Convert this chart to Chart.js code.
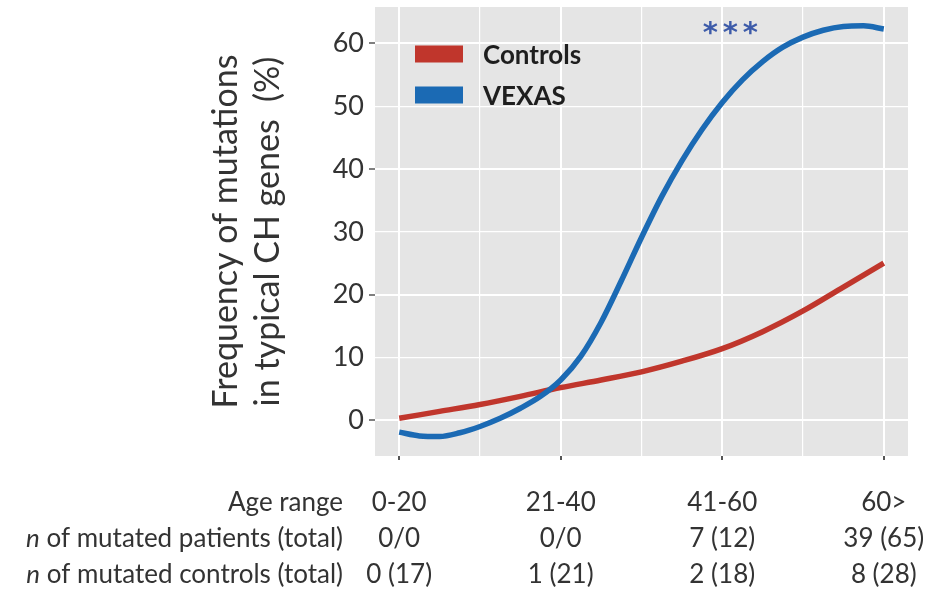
<!DOCTYPE html>
<html>
<head>
<meta charset="utf-8">
<script src="https://cdn.jsdelivr.net/npm/chart.js@4/dist/chart.umd.min.js"></script>
<style>
  html, body { margin: 0; padding: 0; background: #ffffff; }
  #wrap { width: 936px; height: 608px; position: relative; }
</style>
</head>
<body>
<div id="wrap"><canvas id="c" width="936" height="608"></canvas></div>
<script>
// ---------- DATA ----------
const ageRanges = ["0-20", "21-40", "41-60", "60>"];
const mutatedPatients = ["0/0", "0/0", "7 (12)", "39 (65)"];
const mutatedControls = ["0 (17)", "1 (21)", "2 (18)", "8 (28)"];
const rowLabels = ["Age range", "of mutated patients (total)", "of mutated controls (total)"];
const rowItalicPrefix = ["", "n", "n"];

const yTickValues = [0, 10, 20, 30, 40, 50, 60];
const xTickValues = [0, 0.5, 1, 1.5, 2, 2.5, 3];

// curve positions (age-range index along x)
const curveX = [0, 0.125, 0.25, 0.375, 0.5, 0.625, 0.75, 0.875, 1, 1.125, 1.25, 1.375, 1.5,
                1.625, 1.75, 1.875, 2, 2.125, 2.25, 2.375, 2.5, 2.625, 2.75, 2.875, 3];
const vexasY = [-1.9, -2.5, -2.6, -2.0, -1.0, 0.3, 1.9, 3.8, 6.4, 10.2, 15.6, 22.2, 29.1,
                35.6, 41.3, 46.3, 50.6, 54.2, 57.1, 59.4, 61.0, 62.1, 62.7, 62.8, 62.3];
const controlsX = [0, 0.25, 0.5, 0.75, 1, 1.25, 1.5, 1.75, 2, 2.25, 2.5, 2.75, 3];
const controlsY = [0.3, 1.4, 2.5, 3.8, 5.2, 6.4, 7.7, 9.4, 11.4, 14.1, 17.4, 21.2, 25.0];

const seriesNames = ["Controls", "VEXAS"];
const significanceMark = "*";
const significanceCount = 3;
const significanceAt = { x: 2.05, y: 62.8 };

// ---------- STYLE ----------
const FONT = 'Lato, "Open Sans", "DejaVu Sans", sans-serif';
const TEXT = '#333333';
const RED = '#C0362C';
const BLUE = '#1B6AB4';
const PANEL = '#E5E5E5';
const TABLE_SIZE = 26;

const toPts = (xs, ys) => xs.map((x, i) => ({ x: x, y: ys[i] }));

const panelBg = {
  id: 'panelBg',
  beforeDraw(chart) {
    const a = chart.chartArea, ctx = chart.ctx;
    ctx.save();
    ctx.fillStyle = PANEL;
    ctx.fillRect(a.left, a.top, a.right - a.left, a.bottom - a.top);
    ctx.restore();
  }
};

const extras = {
  id: 'extras',
  afterDraw(chart) {
    const ctx = chart.ctx, a = chart.chartArea;
    const xs = chart.scales.x, ys = chart.scales.y;
    ctx.save();
    // legend
    const ds = chart.data.datasets;
    const legX = a.left + 40, legY0 = a.top + 47, legStep = 41;
    ds.forEach((d, i) => {
      const cy = legY0 + i * legStep;
      ctx.fillStyle = d.borderColor;
      ctx.fillRect(legX, cy - 8.5, 48, 17);
      ctx.fillStyle = '#1e1e1e';
      ctx.font = 'bold 26px ' + FONT;
      ctx.textAlign = 'left';
      ctx.textBaseline = 'middle';
      ctx.fillText(d.label, legX + 68, cy + 2);
    });
    // significance marker
    ctx.fillStyle = '#3D5BA9';
    ctx.font = 'bold 29px "DejaVu Sans", sans-serif';
    ctx.textAlign = 'center';
    ctx.textBaseline = 'alphabetic';
    const sx = xs.getPixelForValue(significanceAt.x);
    const sy = ys.getPixelForValue(significanceAt.y) + 16;
    for (let k = 0; k < significanceCount; k++) {
      ctx.fillText(significanceMark, sx + (k - (significanceCount - 1) / 2) * 20, sy);
    }
    // table row labels
    const tOpt = xs.options.ticks;
    const lh = 36;
    const baseY = xs.top + xs.options.grid.tickLength + tOpt.padding + lh / 2;
    const rightX = 343;
    ctx.fillStyle = TEXT;
    ctx.textBaseline = 'middle';
    ctx.textAlign = 'left';
    const f = TABLE_SIZE + 'px ' + FONT, fi = 'italic ' + TABLE_SIZE + 'px ' + FONT;
    rowLabels.forEach((lab, i) => {
      const y = baseY + i * lh;
      ctx.font = f;
      const wMain = ctx.measureText(lab).width;
      let wPre = 0, wSp = 0;
      if (rowItalicPrefix[i]) {
        ctx.font = fi;
        wPre = ctx.measureText(rowItalicPrefix[i]).width;
        ctx.font = f;
        wSp = ctx.measureText(' ').width;
      }
      let x = rightX - wMain - wPre - wSp;
      if (rowItalicPrefix[i]) {
        ctx.font = fi;
        ctx.fillText(rowItalicPrefix[i], x, y);
        x += wPre + wSp;
        ctx.font = f;
      }
      ctx.fillText(lab, x, y);
    });
    ctx.restore();
  }
};

const isInt = v => Math.abs(v - Math.round(v)) < 1e-6;

new Chart(document.getElementById('c'), {
  type: 'line',
  data: {
    datasets: [
      { label: seriesNames[0], data: toPts(controlsX, controlsY), borderColor: RED, backgroundColor: RED,
        borderWidth: 5.5, pointRadius: 0, cubicInterpolationMode: 'monotone', order: 1, borderCapStyle: 'butt' },
      { label: seriesNames[1], data: toPts(curveX, vexasY), borderColor: BLUE, backgroundColor: BLUE,
        borderWidth: 5.5, pointRadius: 0, cubicInterpolationMode: 'monotone', order: 0, borderCapStyle: 'butt' }
    ]
  },
  options: {
    responsive: false,
    animation: false,
    events: [],
    layout: { padding: { left: 195, top: 7, right: 28, bottom: 0 } },
    plugins: { legend: { display: false }, tooltip: { enabled: false } },
    scales: {
      x: {
        type: 'linear',
        min: -0.15, max: 3.15,
        afterBuildTicks: s => { s.ticks = xTickValues.map(v => ({ value: v })); },
        afterFit: s => { s.height = 152; s.paddingLeft = 0; s.paddingRight = 0; },
        border: { display: false },
        grid: {
          color: '#ffffff',
          lineWidth: c => (c.tick && isInt(c.tick.value)) ? 2 : 1.2,
          tickColor: c => (c.tick && isInt(c.tick.value)) ? '#555555' : 'rgba(0,0,0,0)',
          tickLength: 4,
          tickWidth: 2
        },
        ticks: {
          autoSkip: false,
          maxRotation: 0,
          padding: 25,
          color: TEXT,
          font: { family: FONT, size: TABLE_SIZE, lineHeight: '36px' },
          callback: v => {
            if (!isInt(v)) return '';
            const i = Math.round(v);
            return [ageRanges[i], mutatedPatients[i], mutatedControls[i]];
          }
        }
      },
      y: {
        type: 'linear',
        min: -5.7, max: 65.8,
        afterBuildTicks: s => { s.ticks = yTickValues.map(v => ({ value: v })); },
        afterFit: s => { s.width = 180; s.paddingTop = 0; s.paddingBottom = 0; },
        border: { display: false },
        grid: {
          color: '#ffffff',
          lineWidth: c => (c.tick && c.tick.value % 20 === 0) ? 2 : 1.2,
          tickColor: c => (c.tick && c.tick.value % 20 === 0) ? '#555555' : 'rgba(0,0,0,0)',
          tickLength: 6,
          tickWidth: 1.5
        },
        ticks: {
          padding: 5,
          color: TEXT,
          font: { family: FONT, size: 27 },
          callback: v => String(v)
        },
        title: {
          display: true,
          text: ["Frequency of mutations", "in typical CH genes  (%)"],
          color: TEXT,
          font: { family: FONT, size: 34, lineHeight: '42px' },
          padding: { top: 10, bottom: 0 }
        }
      }
    }
  },
  plugins: [panelBg, extras]
});
</script>
</body>
</html>
